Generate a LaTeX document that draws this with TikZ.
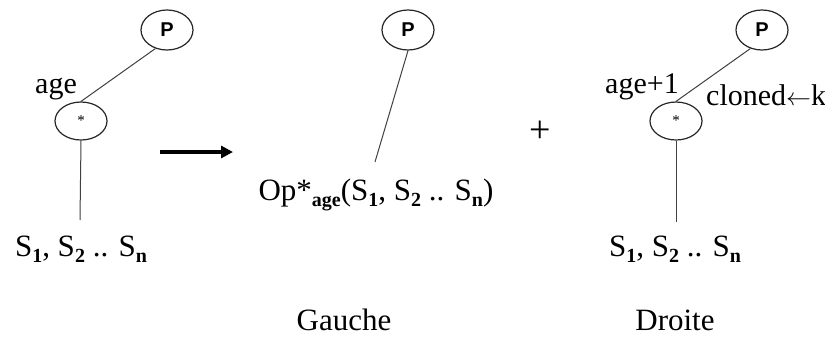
\documentclass[tikz,border=0pt]{standalone}
\usepackage{fontspec}
\setmainfont{Liberation Serif}
\newfontfamily\psans{Liberation Sans}
\usetikzlibrary{shapes.geometric,arrows.meta}
\tikzset{
  pnode/.style={draw=black!85, line width=1.2pt, ellipse, minimum width=52pt, minimum height=40pt, inner sep=0pt, font=\psans\bfseries\fontsize{20}{22}\selectfont},
  snode/.style={draw=black!85, line width=1.2pt, ellipse, minimum width=52pt, minimum height=38pt, inner sep=0pt, font=\fontsize{15}{15}\selectfont},
  txt/.style={inner sep=0pt, font=\fontsize{30}{32}\selectfont, anchor=base},
  ltxt/.style={inner sep=0pt, font=\fontsize{31}{33}\selectfont, anchor=base},
  conn/.style={draw=black!75, line width=1pt}
}
\newcommand{\sbf}[1]{\raisebox{-6pt}{\fontsize{20}{20}\selectfont\bfseries #1}}
\begin{document}
\begin{tikzpicture}[x=1pt,y=-1pt]
\useasboundingbox[fill=white] (0,0) rectangle (825,338);
% left tree
\node[pnode] (pL) at (167,30) {P};
\node[snode] (sL) at (81,121) {*};
\node[txt] (ageL) at (56,93) {age};
\node[ltxt] (listL) at (81,256) {S\sbf{1}, S\sbf{2} .. S\sbf{n}};
\coordinate (lL) at (80,220);
\draw[conn] (pL.238) -- (sL.north);
\draw[conn] (sL.south) -- (lL);
% arrow
\coordinate (a1) at (160,152);
\coordinate (a2) at (233,152);
\draw[line width=3.6pt, -{Triangle[length=12pt,width=12pt]}] (a1) -- (a2);
% middle
\node[pnode] (pM) at (408,30) {P};
\node[ltxt] (op) at (376,200) {Op*\sbf{age}(S\sbf{1}, S\sbf{2} .. S\sbf{n})};
\coordinate (lM) at (375,162);
\draw[conn] (pM.south) -- (lM);
\node[txt, font=\fontsize{38}{40}\selectfont] (plus) at (540,142) {+};
% right tree
\node[pnode] (pR) at (762,30) {P};
\node[snode] (sR) at (676,121) {*};
\node[txt] (ageR) at (642,93) {age+1};
\node[txt, anchor=base west] (cl) at (706,105) {cloned$\leftarrow$k};
\node[ltxt] (listR) at (675,256) {S\sbf{1}, S\sbf{2} .. S\sbf{n}};
\coordinate (lR) at (676,222);
\draw[conn] (pR.238) -- (sR.north);
\draw[conn] (sR.south) -- (lR);
% captions
\node[txt, font=\fontsize{31}{33}\selectfont] (g) at (344,330) {Gauche};
\node[txt, font=\fontsize{31}{33}\selectfont] (d) at (675,330) {Droite};
\end{tikzpicture}
\end{document}
